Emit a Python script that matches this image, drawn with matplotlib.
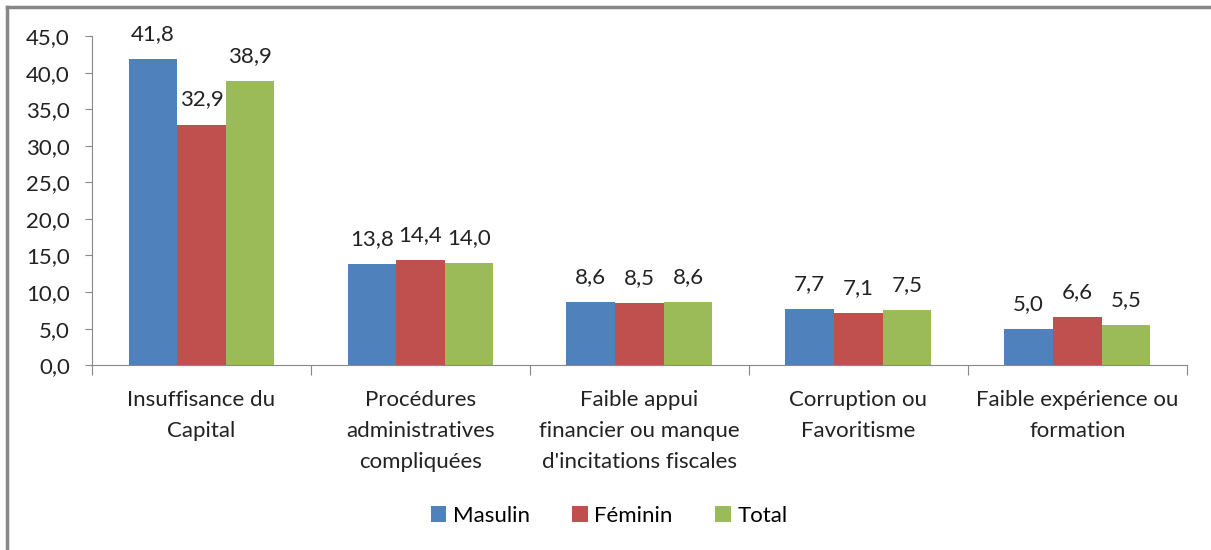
import matplotlib
matplotlib.use("Agg")
import numpy as np
import matplotlib.pyplot as plt
from matplotlib.lines import Line2D
from matplotlib.patches import Patch

plt.rcParams['font.family'] = ['Lato', 'DejaVu Sans']

categories = ["Insuffisance du\nCapital",
              "Procédures\nadministratives\ncompliquées",
              "Faible appui\nfinancier ou manque\nd'incitations fiscales",
              "Corruption ou\nFavoritisme",
              "Faible expérience ou\nformation"]
series = ["Masulin", "Féminin", "Total"]
masculin = [41.8, 13.8, 8.6, 7.7, 5.0]
feminin = [32.9, 14.4, 8.5, 7.1, 6.6]
total = [38.9, 14.0, 8.6, 7.5, 5.5]
colors = ["#4F81BD", "#C0504D", "#9BBB59"]

fs = 16
txt = '#222222'

fig = plt.figure(figsize=(12.11, 5.5), dpi=100)
ax = fig.add_axes([0.076, 0.336, 0.904, 0.5985])

x = np.arange(len(categories))
w = 0.222
for i, (vals, c, name) in enumerate(zip([masculin, feminin, total], colors, series)):
    pos = x + (i - 1) * w
    ax.bar(pos, vals, w, color=c, label=name, edgecolor='none')
    for px, v in zip(pos, vals):
        ax.annotate(f"{v:.1f}".replace('.', ','), (px, v), xytext=(0, 18),
                    textcoords='offset points', ha='center', va='center',
                    fontsize=fs, color=txt)

ax.set_xlim(-0.5, len(categories) - 0.5)
ax.set_ylim(0, 45)
ax.set_yticks(np.arange(0, 46, 5))
ax.set_yticklabels([f"{t:.1f}".replace('.', ',') for t in np.arange(0, 46, 5)])

# category boundaries get the tick marks, labels sit in the middle
ax.set_xticks(np.arange(-0.5, len(categories)), minor=False)
ax.set_xticklabels([])
ax.set_xticks(x, minor=True)
ax.set_xticklabels(categories, minor=True, fontsize=fs, linespacing=1.68,
                   color=txt)
ax.tick_params(axis='x', which='major', length=7, color='#888888', direction='out')
ax.tick_params(axis='x', which='minor', length=0, pad=18)
ax.tick_params(axis='y', length=5, color='#888888', labelsize=fs,
               labelcolor=txt, pad=11)

for s in ['top', 'right']:
    ax.spines[s].set_visible(False)
for s in ['left', 'bottom']:
    ax.spines[s].set_color('#888888')

handles = [Patch(facecolor=c, label=n) for c, n in zip(colors, series)]
fig.legend(handles=handles, loc='center', bbox_to_anchor=(0.503, 0.062), ncol=3,
           frameon=False, fontsize=fs, handlelength=0.7, handleheight=0.7,
           handletextpad=0.3, columnspacing=1.9)

# outer chart frame (top and left edges)
fig.add_artist(Line2D([0.006, 1.0], [0.988, 0.988], transform=fig.transFigure,
                      color='#888888', lw=2.5))
fig.add_artist(Line2D([0.006, 0.006], [0.0, 0.988], transform=fig.transFigure,
                      color='#888888', lw=2.5))

fig.savefig("out.png", dpi=100, facecolor='white')
